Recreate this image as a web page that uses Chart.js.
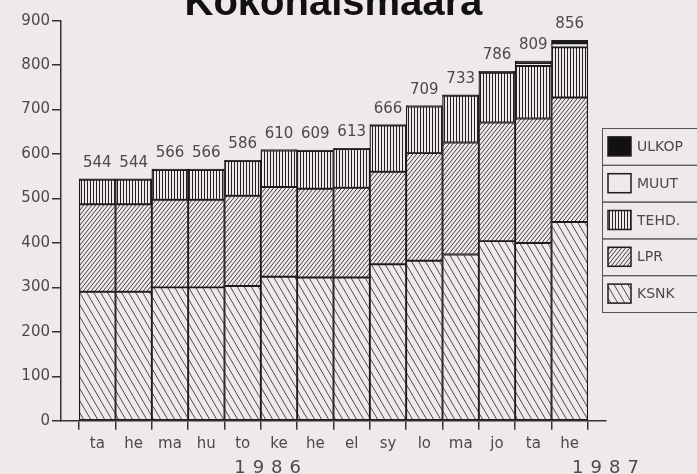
<!DOCTYPE html>
<html>
<head>
<meta charset="utf-8">
<script src="https://cdn.jsdelivr.net/npm/chart.js@4"></script>
<style>
  html, body { margin: 0; padding: 0; background: #f0e9e9; }
  #wrap { width: 697px; height: 474px; overflow: hidden; }
  canvas { display: block; }
</style>
</head>
<body>
<div id="wrap"><canvas id="c" width="697" height="474"></canvas></div>
<script>
// ---- data ----
const months = ['ta', 'he', 'ma', 'hu', 'to', 'ke', 'he', 'el', 'sy', 'lo', 'ma', 'jo', 'ta', 'he'];
const ksnk  = [290, 290, 300, 300, 303, 324, 322, 322, 352, 360, 374, 404, 400, 447];
const lpr   = [197, 197, 197, 197, 203, 202, 200, 202, 208, 242, 252, 267, 280, 280];
const tehd  = [55, 55, 67, 67, 78, 82, 85, 87, 104, 105, 105, 112, 118, 113];
const muut  = [0, 0, 0, 0, 0, 0, 0, 0, 0, 0, 0, 0, 7, 9];
const ulkop = [2, 2, 2, 2, 2, 2, 2, 2, 2, 2, 2, 3, 4, 7];
const seriesNames = ['KSNK', 'LPR', 'TEHD.', 'MUUT', 'ULKOP'];
const yearLabels = ['1986', '1987'];
const yearAt = [4.7, 14];
const yTicks = { min: 0, max: 900, step: 100 };
const titleText = 'Kokonaismäärä';

// ---- styling ----
const BG = '#f0e9e9';
const INK = '#1c1c1c';
const TXT = '#4a4a4a';
const FONT = "'DejaVu Sans', sans-serif";

function tile(w, h, draw) {
  const c = document.createElement('canvas');
  c.width = w; c.height = h;
  const g = c.getContext('2d');
  g.fillStyle = BG; g.fillRect(0, 0, w, h);
  draw(g);
  return g.createPattern(c, 'repeat');
}
function lines(g, segs, color, lw) {
  g.strokeStyle = color; g.lineWidth = lw;
  segs.forEach(s => { g.beginPath(); g.moveTo(s[0], s[1]); g.lineTo(s[2], s[3]); g.stroke(); });
}
const patKsnk = tile(7, 12, g => lines(g, [[0,0,7,12],[-7,0,0,12],[7,0,14,12]], '#3a3a3a', 0.9));
const patLpr  = tile(4, 5, g => lines(g, [[0,5,4,0],[-4,5,0,0],[4,5,8,0]], '#2a2a2a', 0.9));
const patTehd = tile(3, 3, g => lines(g, [[0.5,0,0.5,3]], '#222', 1));
const fills = [patKsnk, patLpr, patTehd, BG, '#111'];
const seriesData = [ksnk, lpr, tehd, muut, ulkop];

const datasets = seriesNames.map((name, k) => ({
  label: name,
  data: seriesData[k].map((v, i) => ({ x: i, y: v })),
  backgroundColor: fills[k],
  borderColor: INK,
  borderWidth: 1.3,
  borderSkipped: false,
  barPercentage: 1,
  categoryPercentage: 1
}));

const bgPlugin = {
  id: 'bg',
  beforeDraw(chart) {
    const ctx = chart.ctx;
    ctx.save(); ctx.fillStyle = BG; ctx.fillRect(0, 0, chart.width, chart.height); ctx.restore();
  }
};

const extras = {
  id: 'extras',
  afterDatasetsDraw(chart) {
    const ctx = chart.ctx, xs = chart.scales.x, ys = chart.scales.y;
    ctx.save();
    // title (clipped at the top edge, as in the reference)
    ctx.font = "bold 40px 'Liberation Sans', Arial, sans-serif";
    ctx.fillStyle = '#111';
    ctx.textAlign = 'center';
    ctx.textBaseline = 'alphabetic';
    ctx.fillText(titleText, (xs.left + xs.right) / 2, 15);
    // totals above bars
    ctx.font = '15px ' + FONT;
    ctx.fillStyle = TXT;
    months.forEach((m, i) => {
      const tot = seriesData.reduce((s, arr) => s + arr[i], 0);
      ctx.fillText(String(tot), xs.getPixelForValue(i), ys.getPixelForValue(tot) - 12);
    });
    // year labels
    ctx.font = '18px ' + FONT;
    ctx.letterSpacing = '7px';
    yearLabels.forEach((t, k) => {
      ctx.fillText(t, xs.getPixelForValue(yearAt[k]) + 3, 473);
    });
    ctx.letterSpacing = '0px';
    // legend box
    const lx = 602, ly = 128, rh = 36.8, lw = 120;
    for (let r = 0; r < seriesNames.length; r++) {
      const k = seriesNames.length - 1 - r;
      const top = ly + r * rh;
      ctx.strokeStyle = '#555'; ctx.lineWidth = 1;
      ctx.strokeRect(lx + 0.5, top + 0.5, lw, rh);
      const sx = 608, sy = top + rh / 2 - 9.5;
      ctx.fillStyle = fills[k];
      ctx.fillRect(sx, sy, 23, 19);
      ctx.strokeStyle = INK; ctx.lineWidth = 1.5;
      ctx.strokeRect(sx, sy, 23, 19);
      ctx.fillStyle = TXT;
      ctx.font = '14px ' + FONT;
      ctx.textAlign = 'left';
      ctx.textBaseline = 'middle';
      ctx.fillText(seriesNames[k], 637, top + rh / 2 + 1);
    }
    ctx.restore();
  }
};

new Chart(document.getElementById('c'), {
  type: 'bar',
  data: { datasets },
  plugins: [bgPlugin, extras],
  options: {
    responsive: false,
    animation: false,
    devicePixelRatio: 1,
    layout: { padding: { left: 0, right: 91, top: 20.7, bottom: 0 } },
    plugins: {
      legend: { display: false },
      tooltip: { enabled: false },
      title: { display: false }
    },
    scales: {
      x: {
        type: 'linear',
        min: -1, max: 14,
        offset: false,
        stacked: true,
        afterFit: s => { s.height = 53.3; },
        grid: { display: true, drawOnChartArea: false, drawTicks: true, tickLength: 9, color: '#333', lineWidth: 1.5 },
        border: { display: true, color: '#333', width: 1.5 },
        ticks: {
          stepSize: 1, autoSkip: false, maxRotation: 0, padding: 5,
          color: TXT, font: { family: FONT, size: 15 },
          callback: v => (months[v] !== undefined ? months[v] : '')
        }
      },
      y: {
        stacked: true,
        min: yTicks.min, max: yTicks.max,
        afterFit: s => { s.width = 61; },
        grid: { display: true, drawOnChartArea: false, drawTicks: true, tickLength: 9, color: '#333', lineWidth: 1.5 },
        border: { display: true, color: '#333', width: 1.5 },
        ticks: { stepSize: yTicks.step, padding: 2, color: TXT, font: { family: FONT, size: 15 } }
      }
    }
  }
});
</script>
</body>
</html>
